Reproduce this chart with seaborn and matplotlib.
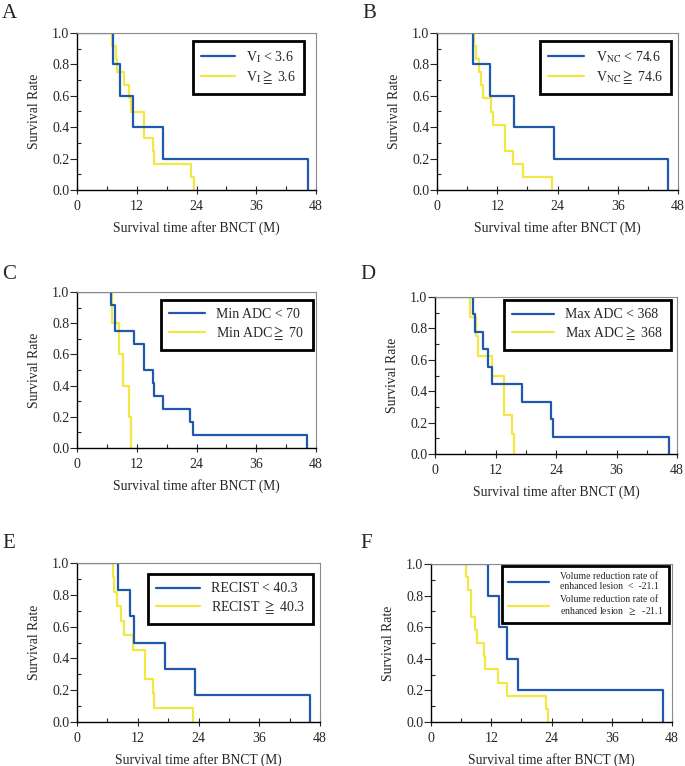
import seaborn as sns
import matplotlib.pyplot as plt
import pandas as pd
import numpy as np
import matplotlib
matplotlib.use('Agg')
from matplotlib.ticker import MultipleLocator

# survival curves (time in months, survival rate)
a_blue_t = [0, 7.3, 8.7, 11.3, 17.3, 46.3]
a_blue_s = [1.0, 0.8, 0.6, 0.4, 0.2, 0.0]
a_yel_t = [0, 7.0, 7.8, 8.0, 9.4, 10.4, 10.8, 13.5, 15.2, 15.4, 22.9, 23.5]
a_yel_s = [1.0, 0.917, 0.833, 0.75, 0.667, 0.583, 0.5, 0.333, 0.25, 0.167, 0.083, 0.0]

b_blue_t = [0, 7.2, 10.5, 15.3, 23.4, 46.0]
b_blue_s = [1.0, 0.8, 0.6, 0.4, 0.2, 0.0]
b_yel_t = [0, 7.3, 7.8, 8.4, 8.8, 9.2, 10.8, 11.2, 13.5, 15.1, 17.1, 23.0]
b_yel_s = [1.0, 0.917, 0.833, 0.75, 0.667, 0.583, 0.5, 0.417, 0.25, 0.167, 0.083, 0.0]

c_blue_t = [0, 6.9, 7.7, 11.4, 13.5, 15.2, 15.4, 17.2, 22.7, 23.3, 46.1]
c_blue_s = [1.0, 0.917, 0.75, 0.667, 0.5, 0.417, 0.333, 0.25, 0.167, 0.083, 0.0]
c_yel_t = [0, 7.1, 8.5, 9.2, 10.5, 10.9]
c_yel_s = [1.0, 0.8, 0.6, 0.4, 0.2, 0.0]

d_blue_t = [0, 7.5, 7.9, 9.5, 10.5, 11.4, 17.2, 23.0, 23.5, 46.4]
d_blue_s = [1.0, 0.889, 0.778, 0.667, 0.556, 0.444, 0.333, 0.222, 0.111, 0.0]
d_yel_t = [0, 7.0, 8.1, 8.6, 11.3, 13.6, 15.2, 15.6]
d_yel_s = [1.0, 0.875, 0.75, 0.625, 0.5, 0.25, 0.125, 0.0]

e_blue_t = [0, 8.0, 10.4, 11.3, 17.3, 23.3, 46.0]
e_blue_s = [1.0, 0.833, 0.667, 0.5, 0.333, 0.167, 0.0]
e_yel_t = [0, 7.1, 7.4, 7.9, 8.7, 9.3, 11.0, 13.5, 15.0, 15.2, 22.9]
e_yel_s = [1.0, 0.909, 0.818, 0.727, 0.636, 0.545, 0.455, 0.273, 0.182, 0.091, 0.0]

f_blue_t = [0, 11.3, 13.5, 15.1, 17.3, 46.2]
f_blue_s = [1.0, 0.8, 0.6, 0.4, 0.2, 0.0]
f_yel_t = [0, 7.0, 7.3, 8.0, 8.8, 9.2, 10.5, 10.8, 13.3, 15.1, 23.0, 23.4]
f_yel_s = [1.0, 0.917, 0.833, 0.667, 0.583, 0.5, 0.417, 0.333, 0.25, 0.167, 0.083, 0.0]

letters = ['A', 'B', 'C', 'D', 'E', 'F']
blue_labels = [r'V$_{\rm I}$ < 3.6', r'V$_{\rm NC}$ < 74.6', 'Min ADC < 70',
               'Max ADC < 368', 'RECIST < 40.3',
               'Volume reduction rate of\nenhanced lesion  <  -21.1']
yel_labels = [r'V$_{\rm I}$$\geqq$ 3.6', r'V$_{\rm NC}$$\geqq$ 74.6', r'Min ADC$\geqq$ 70',
              r'Max ADC$\geqq$ 368', r'RECIST $\geqq$ 40.3',
              'Volume reduction rate of\nenhanced lesion  $\\geq$  -21.1']

curves = [(a_blue_t, a_blue_s, a_yel_t, a_yel_s),
          (b_blue_t, b_blue_s, b_yel_t, b_yel_s),
          (c_blue_t, c_blue_s, c_yel_t, c_yel_s),
          (d_blue_t, d_blue_s, d_yel_t, d_yel_s),
          (e_blue_t, e_blue_s, e_yel_t, e_yel_s),
          (f_blue_t, f_blue_s, f_yel_t, f_yel_s)]

sns.set_style('ticks')
plt.rcParams['font.family'] = ['Liberation Serif', 'DejaVu Serif', 'DejaVu Sans']
plt.rcParams['mathtext.fontset'] = 'stix'

W, H = 685, 766
BLUE = '#2059ac'
YEL = '#f2e843'

# axes boxes in pixels: left, right, top, bottom
boxes = [(77, 316, 33, 190), (437, 678, 33, 190),
         (77, 316, 292, 448), (435, 677, 297, 454),
         (77, 320, 563, 722), (431, 672, 564, 722)]
letter_pos = [(2, 14), (362, 13), (2, 275), (360, 275), (2, 543), (360, 543)]
# legend upper-right corner in axes fractions
leg_anchor = [(0.95, 0.949), (0.971, 0.949), (0.987, 0.949),
              (0.975, 0.98), (0.971, 0.93), (0.988, 0.987)]
handle_len = [2.4, 2.6, 2.6, 3.0, 3.1, 4.2]

fig = plt.figure(figsize=(W / 100, H / 100), dpi=100)

for i in range(6):
    l, r, t, b = boxes[i]
    ax = fig.add_axes([l / W, 1 - b / H, (r - l) / W, (b - t) / H])
    bt, bs, yt, ys = curves[i]
    dy = pd.DataFrame({'t': yt, 's': ys})
    db = pd.DataFrame({'t': bt, 's': bs})
    sns.lineplot(data=dy, x='t', y='s', ax=ax, color=YEL, lw=1.6,
                 drawstyle='steps-post', estimator=None, sort=False, label=yel_labels[i])
    sns.lineplot(data=db, x='t', y='s', ax=ax, color=BLUE, lw=1.6,
                 drawstyle='steps-post', estimator=None, sort=False, label=blue_labels[i])

    ax.set_xlim(0, 48)
    ax.set_ylim(0, 1.0)
    ax.set_xticks([0, 12, 24, 36, 48])
    ax.xaxis.set_minor_locator(MultipleLocator(6))
    ax.set_yticks(np.arange(0, 1.01, 0.2))
    ax.yaxis.set_minor_locator(MultipleLocator(0.1))
    ax.set_yticklabels(['0.0', '0.2', '0.4', '0.6', '0.8', '1.0'])
    ax.tick_params(axis='x', which='major', direction='inout', length=6, width=0.8, labelsize=10, pad=4)
    ax.tick_params(axis='x', which='minor', direction='in', length=3, width=0.8)
    ax.tick_params(axis='y', which='major', direction='out', length=5, width=0.8, labelsize=10, pad=0.5)
    ax.tick_params(axis='y', which='minor', direction='in', length=3, width=0.8)
    for sp in ['top', 'right']:
        ax.spines[sp].set_color('#8a8a8a')
        ax.spines[sp].set_linewidth(0.8)
    for sp in ['left', 'bottom']:
        ax.spines[sp].set_color('black')
        ax.spines[sp].set_linewidth(1.0)
    ax.set_xlabel('Survival time after BNCT (M)', fontsize=9.8, labelpad=6)
    ax.set_ylabel('Survival Rate', fontsize=9.8, labelpad=8)

    h, lab = ax.get_legend_handles_labels()
    if i == 5:
        leg = ax.legend(h[::-1], lab[::-1], loc='upper right', bbox_to_anchor=leg_anchor[i],
                        borderaxespad=0, fontsize=7, handlelength=handle_len[i], handletextpad=1.1,
                        borderpad=0.6, labelspacing=0.35, fancybox=False,
                        edgecolor='black', framealpha=1)
    else:
        leg = ax.legend(h[::-1], lab[::-1], loc='upper right', bbox_to_anchor=leg_anchor[i],
                        borderaxespad=0, fontsize=10, handlelength=handle_len[i], handletextpad=0.8,
                        borderpad=0.6, labelspacing=0.2, fancybox=False,
                        edgecolor='black', framealpha=1)
    leg.get_frame().set_linewidth(2.0)

    x0, y0 = letter_pos[i]
    fig.text(x0 / W, 1 - y0 / H, letters[i], fontsize=15, ha='left', va='center')

plt.savefig('out.png', dpi=100)
